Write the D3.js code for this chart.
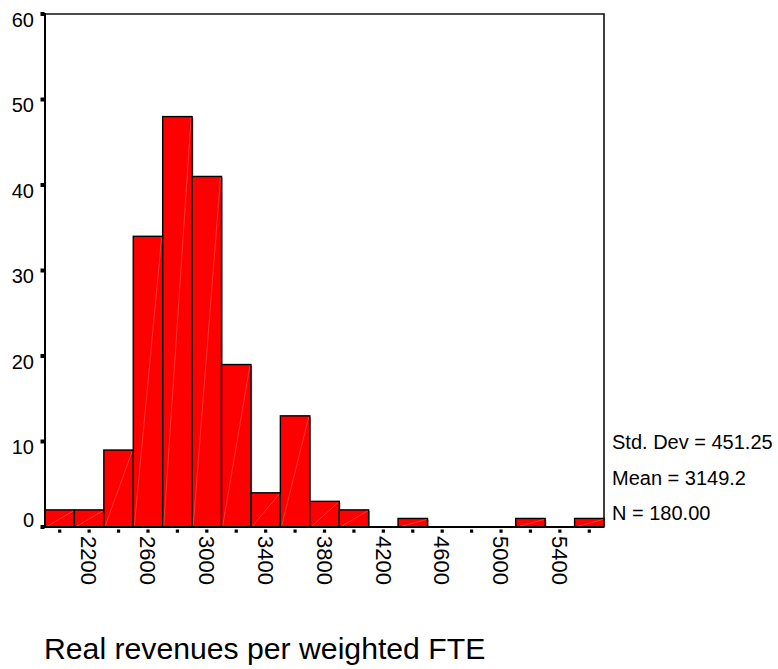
<!DOCTYPE html>
<html>
<head>
<meta charset="utf-8">
<script src="https://cdn.jsdelivr.net/npm/d3@7"></script>
<style>
  html, body { margin: 0; padding: 0; background: #fff; }
  svg { display: block; font-family: "Liberation Sans", Arial, sans-serif; }
</style>
</head>
<body>
<svg id="chart" width="778" height="669"></svg>
<script>
// ---- data ----
const binStart = 1900;
const binWidth = 200;
const counts = [2, 2, 9, 34, 48, 41, 19, 4, 13, 3, 2, 0, 1, 0, 0, 0, 1, 0, 1];
const xTickLabels = [2200, 2600, 3000, 3400, 3800, 4200, 4600, 5000, 5400];
const yTicks = [0, 10, 20, 30, 40, 50, 60];
const statsLines = ["Std. Dev = 451.25", "Mean = 3149.2", "N = 180.00"];
const title = "Real revenues per weighted FTE";

// ---- layout ----
const pLeft = 45, pRight = 604, pTop = 14, pBottom = 527;
const svg = d3.select("#chart");

const bins = counts.map((c, i) => ({
  x0: binStart + i * binWidth,
  x1: binStart + (i + 1) * binWidth,
  count: c
}));

const x = d3.scaleLinear()
  .domain([binStart, binStart + counts.length * binWidth])
  .range([pLeft, pRight]);
const y = d3.scaleLinear().domain([0, 60]).range([pBottom, pTop]);

// frame (top and right)
svg.append("path")
  .attr("d", `M${pLeft},${pTop}H${pRight}V${pBottom}`)
  .attr("fill", "none").attr("stroke", "#111").attr("stroke-width", 1.6);

// bars
const barG = svg.append("g");
const bars = bins.filter(d => d.count > 0);
barG.selectAll("rect.shadow").data(bars).join("rect")
  .attr("class", "shadow")
  .attr("x", d => x(d.x0) + 1.2)
  .attr("y", d => y(d.count) + 1.2)
  .attr("width", d => x(d.x1) - x(d.x0))
  .attr("height", d => y(0) - y(d.count) - 1.2)
  .attr("fill", "#888");
barG.selectAll("rect.bar").data(bars).join("rect")
  .attr("class", "bar")
  .attr("x", d => x(d.x0))
  .attr("y", d => y(d.count))
  .attr("width", d => x(d.x1) - x(d.x0))
  .attr("height", d => y(0) - y(d.count))
  .attr("fill", "#ff0000")
  .attr("stroke", "#000")
  .attr("stroke-width", 1.4);
barG.selectAll("line.diag").data(bars).join("line")
  .attr("class", "diag")
  .attr("x1", d => x(d.x0) + 1)
  .attr("y1", y(0))
  .attr("x2", d => x(d.x1) - 1)
  .attr("y2", d => y(d.count) + 1)
  .attr("stroke", "#ff9a9a")
  .attr("stroke-opacity", 0.6)
  .attr("stroke-width", 0.6);

// y axis
const yAxis = d3.axisLeft(y).tickValues(yTicks).tickSize(0).tickPadding(0);
const yg = svg.append("g").attr("transform", `translate(${pLeft},0)`).call(yAxis);
yg.select(".domain").remove();
yg.selectAll(".tick text").remove();
svg.append("line")
  .attr("x1", pLeft).attr("x2", pLeft).attr("y1", pTop - 1).attr("y2", pBottom + 1)
  .attr("stroke", "#000").attr("stroke-width", 2);
const yLab = svg.append("g");
yTicks.forEach(t => {
  yLab.append("rect")
    .attr("x", pLeft - 4.5).attr("y", y(t) - 2)
    .attr("width", 4).attr("height", 4).attr("fill", "#000");
  // label baseline sits below the tick, clamped to the axis bottom
  const base = Math.min(y(t) + 12.5, pBottom);
  yLab.append("text")
    .attr("x", pLeft - 11).attr("y", base)
    .attr("text-anchor", "end")
    .attr("font-size", 20)
    .attr("fill", "#000")
    .text(t);
});

// x axis line
svg.append("line")
  .attr("x1", pLeft - 3).attr("x2", pRight).attr("y1", pBottom).attr("y2", pBottom)
  .attr("stroke", "#000").attr("stroke-width", 1.8);

// x tick marks at every bin center
svg.append("g").selectAll("rect").data(bins).join("rect")
  .attr("x", d => x((d.x0 + d.x1) / 2) - 1.6)
  .attr("y", pBottom + 2.5)
  .attr("width", 3.2).attr("height", 3.2)
  .attr("fill", "#000");

// x tick labels (rotated, reading downward)
svg.append("g").selectAll("text").data(xTickLabels).join("text")
  .attr("transform", d => `translate(${x(d)},${pBottom + 9}) rotate(90)`)
  .attr("text-anchor", "start")
  .attr("dy", "0.35em")
  .attr("font-size", 22)
  .attr("fill", "#000")
  .text(d => d);

// stats
svg.append("g").selectAll("text").data(statsLines).join("text")
  .attr("x", 612)
  .attr("y", (d, i) => 449 + i * 35.5)
  .attr("font-size", 20)
  .attr("fill", "#000")
  .text(d => d);

// title
svg.append("text")
  .attr("x", 44).attr("y", 659)
  .attr("font-size", 30.2)
  .attr("fill", "#000")
  .text(title);
</script>
</body>
</html>
